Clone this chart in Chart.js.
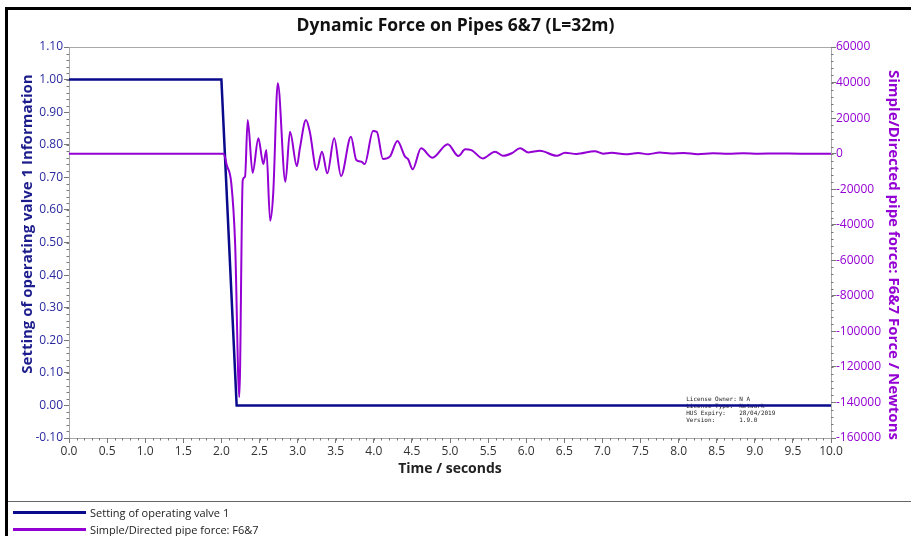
<!DOCTYPE html>
<html>
<head>
<meta charset="utf-8">
<script src="https://cdn.jsdelivr.net/npm/chart.js@4"></script>
<style>
  body { margin: 0; background: #fff; font-family: "Open Sans", sans-serif; }
  #wrap { position: relative; width: 911px; height: 536px; overflow: hidden; }
  #frame { position: absolute; left: 5px; top: 7px; width: 920px; height: 540px;
           border-top: 3px solid #000; border-left: 3px solid #000; }
  #sep { position: absolute; left: 8px; top: 501px; width: 903px; height: 1px; background: #666; }
  #legend { position: absolute; left: 13px; top: 504px; font-size: 11px; color: #222; }
  .row { height: 17px; display: flex; align-items: center; }
  .swatch { width: 73px; height: 3px; margin-right: 4px; }
</style>
</head>
<body>
<div id="wrap">
  <canvas id="chart" width="911" height="500"></canvas>
  <div id="frame"></div>
  <div id="sep"></div>
  <div id="legend"></div>
</div>
<script>
/* DADOS */
var valveTime = [0, 2.0, 2.2, 10];
var valveSetting = [1, 1, 0, 0];

var forceTime = [0, 2.03, 2.07, 2.13, 2.18, 2.235, 2.28, 2.31, 2.345, 2.41, 2.485, 2.55, 2.59, 2.64, 2.68,
  2.74, 2.84, 2.90, 2.99, 3.03, 3.11, 3.16, 3.25, 3.32, 3.39, 3.48, 3.57, 3.70, 3.77, 3.84, 3.88,
  3.99, 4.04, 4.12, 4.21, 4.31, 4.41, 4.45, 4.51, 4.62, 4.77, 4.97, 5.11, 5.20, 5.28, 5.43, 5.59,
  5.70, 5.81, 5.92, 6.03, 6.18, 6.40, 6.51, 6.66, 6.90, 7.01, 7.12, 7.30, 7.47, 7.60, 7.75, 7.90,
  8.07, 8.25, 8.45, 8.65, 8.85, 9.05, 9.3, 9.6, 10];
var forceValue = [0, 0, -6400, -16700, -50400, -137000, -14900, -13000, 18900, -10800, 8600, -5900, 2000, -37800, -22400,
  39600, -15800, 12300, -7000, 3000, 18900, 12300, -9200, 1100, -11100, 8600, -12600, 9500, -3600, -4600, -5900,
  12700, 12300, -3000, -1700, 7100, -1700, -3100, -8800, 3000, -2300, 5300, -1350, 2400, 2000, -2700, 1100,
  -1200, 200, 3000, 700, 1600, -1200, 500, -200, 1400, 0, 500, -300, 300, -300, 600, 100,
  400, -300, 200, -100, 200, 0, 100, 0, 0];

var xTicks = { min: 0, max: 10, step: 0.5 };
var valveTicks = { min: -0.1, max: 1.1, step: 0.1 };
var forceTicks = { min: -160000, max: 60000, step: 20000 };

var seriesNames = ["Setting of operating valve 1", "Simple/Directed pipe force: F6&7"];
var leftTitle = "Setting of operating valve 1 Information";
var rightTitle = "Simple/Directed pipe force: F6&7 Force / Newtons";
var licenseLines = [
  ["License Owner:", "N A"],
  ["License Type:", "Network"],
  ["HUS Expiry:", "28/04/2019"],
  ["Version:", "1.9.0"]
];

var navy = "#0a0a8c";
var violet = "#9400d3";
var axisGrey = "#a8a8a8";

function pontos(xs, ys) {
  return xs.map((x, i) => ({ x: x, y: ys[i] }));
}

/* LEGENDA */
var legend = document.getElementById("legend");
[navy, violet].forEach((c, i) => {
  var row = document.createElement("div");
  row.className = "row";
  row.innerHTML = '<span class="swatch" style="background:' + c + '"></span>' + seriesNames[i].replace("&", "&amp;");
  legend.appendChild(row);
});

/* TRAÇOS MENORES, BORDA, TÍTULOS DOS EIXOS E LICENÇA */
var extras = {
  id: "extras",
  beforeDatasetsDraw(chart) {
    var ctx = chart.ctx, s = chart.scales;
    ctx.save();
    ctx.font = '6px "DejaVu Sans Mono"';
    ctx.fillStyle = "#222";
    ctx.textBaseline = "middle";
    var x0 = s.x.getPixelForValue(8.1), y0 = s.y.getPixelForValue(0.018);
    licenseLines.forEach((l, i) => {
      ctx.fillText(l[0], x0, y0 + i * 7);
      ctx.fillText(l[1], x0 + 53, y0 + i * 7);
    });
    ctx.restore();
  },
  afterDraw(chart) {
    var ctx = chart.ctx, a = chart.chartArea, s = chart.scales;
    ctx.save();
    ctx.strokeStyle = axisGrey;
    ctx.lineWidth = 1;
    ctx.beginPath();
    ctx.moveTo(a.left, a.top + 0.5);
    ctx.lineTo(a.right, a.top + 0.5);
    ctx.stroke();
    ctx.strokeStyle = "#777";
    ctx.beginPath();
    for (var v = xTicks.min; v <= xTicks.max + 1e-9; v += xTicks.step / 5) {
      var px = Math.round(s.x.getPixelForValue(v)) + 0.5;
      ctx.moveTo(px, a.bottom); ctx.lineTo(px, a.bottom + 2.5);
    }
    for (var v = valveTicks.min; v <= valveTicks.max + 1e-9; v += valveTicks.step / 5) {
      var py = Math.round(s.y.getPixelForValue(v)) + 0.5;
      ctx.moveTo(a.left, py); ctx.lineTo(a.left - 2.5, py);
    }
    for (var v = forceTicks.min; v <= forceTicks.max; v += forceTicks.step / 5) {
      var py = Math.round(s.y1.getPixelForValue(v)) + 0.5;
      ctx.moveTo(a.right, py); ctx.lineTo(a.right + 2.5, py);
    }
    ctx.stroke();

    // títulos dos eixos verticais
    ctx.font = 'bold 15px "Open Sans"';
    ctx.textAlign = "center";
    ctx.textBaseline = "middle";
    ctx.fillStyle = "#1c1c8c";
    ctx.translate(28, 224);
    ctx.rotate(-Math.PI / 2);
    ctx.fillText(leftTitle, 0, 0);
    ctx.setTransform(1, 0, 0, 1, 0, 0);
    ctx.fillStyle = violet;
    ctx.translate(893, 255);
    ctx.rotate(Math.PI / 2);
    ctx.fillText(rightTitle, 0, 0);
    ctx.restore();
  }
};

Chart.defaults.font.family = '"Open Sans", sans-serif';
Chart.defaults.animation = false;

var chart = new Chart(document.getElementById("chart"), {
  type: "line",
  data: {
    datasets: [{
      label: seriesNames[0],
      data: pontos(valveTime, valveSetting),
      borderColor: navy,
      borderWidth: 2.5,
      pointRadius: 0,
      yAxisID: "y",
      order: 1
    }, {
      label: seriesNames[1],
      data: pontos(forceTime, forceValue),
      borderColor: violet,
      borderWidth: 2,
      pointRadius: 0,
      cubicInterpolationMode: "monotone",
      yAxisID: "y1",
      order: 0
    }]
  },
  options: {
    responsive: false,
    layout: { padding: 0 },
    plugins: {
      legend: { display: false },
      tooltip: { enabled: false },
      title: {
        display: true,
        text: "Dynamic Force on Pipes 6&7 (L=32m)",
        color: "#111",
        font: { size: 17.5, weight: "bold" },
        padding: { top: 16, bottom: 10 }
      }
    },
    scales: {
      x: {
        type: "linear",
        min: xTicks.min, max: xTicks.max,
        afterFit: s => { s.height = 62; },
        ticks: { stepSize: xTicks.step, color: "#333", font: { size: 12 }, padding: 1, maxRotation: 0,
                 autoSkip: false, callback: v => Number(v).toFixed(1) },
        grid: { drawOnChartArea: false, tickLength: 5, color: "#777" },
        border: { color: axisGrey },
        title: { display: true, text: "Time / seconds", color: "#222", font: { size: 14, weight: "bold" },
                 padding: { top: 0, bottom: 23 } }
      },
      y: {
        position: "left",
        min: valveTicks.min, max: valveTicks.max,
        afterFit: s => { s.width = 69; },
        ticks: { stepSize: valveTicks.step, color: "#2a2aa0", font: { size: 12 }, padding: 1,
                 autoSkip: false, callback: v => Number(v).toFixed(2) },
        grid: { drawOnChartArea: false, tickLength: 5, color: "#777" },
        border: { color: axisGrey }
      },
      y1: {
        position: "right",
        min: forceTicks.min, max: forceTicks.max,
        afterFit: s => { s.width = 80; },
        ticks: { stepSize: forceTicks.step, color: violet, font: { size: 12 }, padding: 0,
                 autoSkip: false, callback: v => String(v) },
        grid: { drawOnChartArea: false, tickLength: 5, color: "#777" },
        border: { color: axisGrey }
      }
    }
  },
  plugins: [extras]
});
</script>
</body>
</html>
